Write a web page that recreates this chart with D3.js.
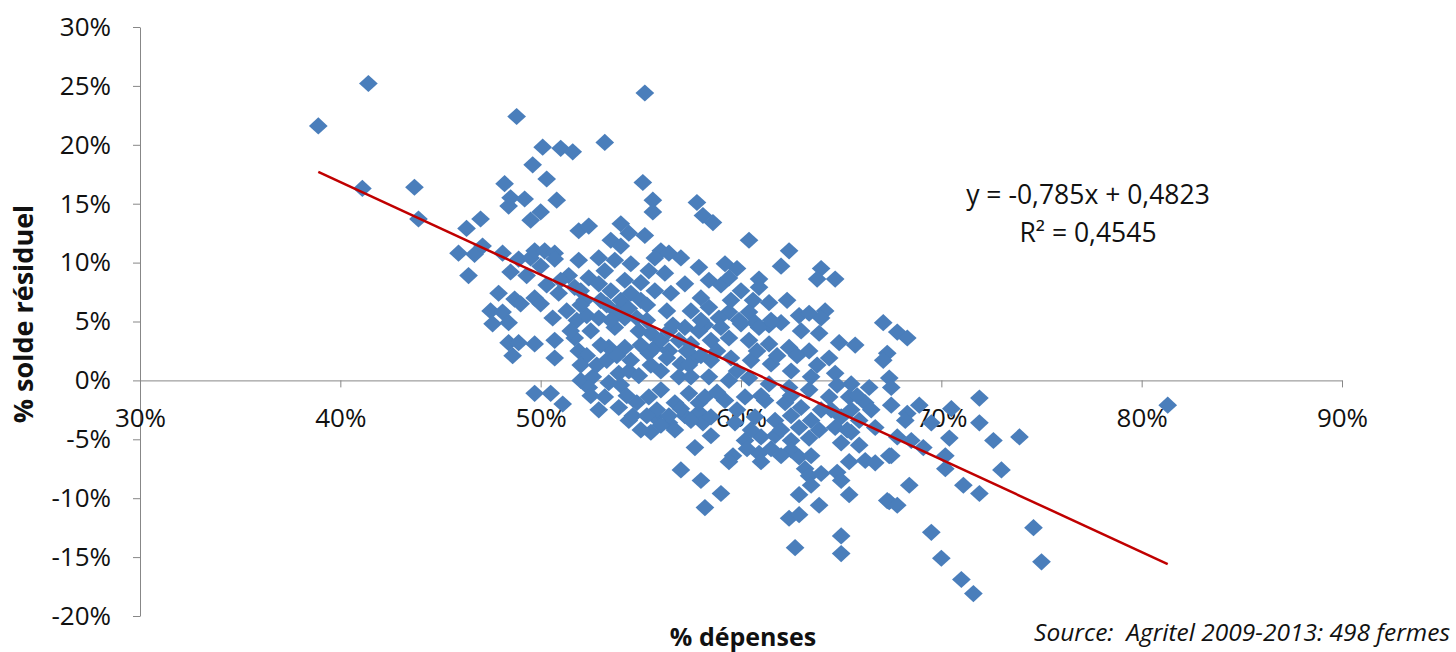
<!DOCTYPE html>
<html>
<head>
<meta charset="utf-8">
<script src="https://cdn.jsdelivr.net/npm/d3@7"></script>
<style>
  body { margin: 0; background: #fff; }
  text { font-family: "Open Sans", sans-serif; fill: #111; }
</style>
</head>
<body>
<div class="chart"></div>
<script>
// % dépenses (x) vs % solde résiduel (y), one pair per farm
var fermes = [
  [38.9,21.6],[41.4,25.2],[41.1,16.3],[43.7,16.4],[43.9,13.7],[48.8,22.4],[49.6,18.3],[48.2,16.7],[48.5,15.5],[49.2,15.4],
  [48.4,14.8],[47.0,13.7],[46.3,12.9],[49.5,13.6],[45.9,10.8],[46.7,10.7],[47.1,11.4],[48.1,10.8],[48.9,10.3],[46.4,8.9],
  [48.5,9.2],[49.5,10.4],[50.0,9.7],[47.9,7.4],[47.5,5.9],[48.1,5.8],[48.7,6.9],[49.0,6.5],[49.7,7.0],[50.0,6.5],
  [47.6,4.8],[48.4,4.9],[48.4,3.2],[48.9,3.2],[48.6,2.1],[49.7,3.1],[49.7,-1.1],
  [55.2,24.4],[53.2,20.2],[50.1,19.8],[51.0,19.7],[51.6,19.4],[50.3,17.1],[55.1,16.8],[50.8,15.3],[55.6,15.3],[55.6,14.3],
  [57.8,15.1],[50.0,14.3],[58.1,14.0],[58.6,13.4],[51.9,12.7],[52.4,13.1],[54.0,13.3],[54.4,12.5],[53.5,11.9],[55.2,12.3],
  [54.0,11.4],[49.7,11.0],[50.2,11.0],[50.7,10.8],[56.0,11.0],[56.4,10.8],
  [60.4,11.9],[62.4,11.0],[62.0,9.7],[64.0,9.5],[64.7,8.6],[63.8,8.6],[59.2,9.9],[59.8,9.5],[58.4,8.5],[59.0,8.1],
  [59.4,8.7],[60.9,8.6],[60.9,7.9],[60.0,7.6],[61.4,6.6],[60.6,6.8],[60.4,5.8],[59.4,5.8],[58.9,5.3],[58.4,6.2],
  [59.9,5.1],[60.7,4.9],[61.4,4.7],[62.9,5.5],[63.4,5.7],[64.2,5.9],[64.0,5.3],[67.1,4.9],[58.2,4.7],[58.0,7.0],
  [60.2,-5.1],[61.0,-4.8],[61.7,-4.7],[62.5,-5.1],[63.4,-4.9],[59.6,-6.4],[59.4,-6.9],[60.9,-6.2],[61.0,-6.9],[61.5,-5.8],
  [62.5,-5.9],[62.9,-6.5],[65.0,-5.3],[65.9,-5.5],[65.5,-4.4],[65.4,-6.9],[66.2,-6.8],[66.7,-7.0],[67.4,-6.4],[63.2,-7.5],
  [63.4,-8.1],[64.0,-7.9],[64.8,-7.8],[65.0,-8.5],[58.0,-8.5],[63.5,-8.9],[62.9,-9.7],[59.0,-9.6],[65.4,-9.7],[67.3,-10.2],
  [58.2,-10.8],[63.9,-10.6],[62.4,-11.7],[62.9,-11.4],[65.0,-13.2],[62.7,-14.2],[65.0,-14.7],
  [54.4,-3.4],[55.5,-4.4],[55.7,-3.1],[56.4,-3.6],[56.7,-4.2],[57.2,-3.0],[57.9,-2.7],[58.1,-3.6],[57.7,-5.7],[57.0,-7.6],
  [67.8,4.1],[68.3,3.6],[67.3,2.3],[67.1,1.7],[67.4,0.2],[67.5,-0.6],[67.5,-2.1],[68.3,-2.8],[68.2,-3.4],[68.9,-2.1],
  [69.5,-3.6],[70.5,-2.4],[71.9,-1.5],[71.9,-3.6],[70.4,-4.9],[72.6,-5.1],[73.9,-4.8],[67.8,-4.8],[68.5,-5.1],[69.1,-5.7],
  [67.5,-6.4],[70.2,-6.4],[70.2,-7.5],[73.0,-7.6],[68.4,-8.9],[71.1,-8.9],[71.9,-9.6],[67.4,-10.3],[67.8,-10.6],[69.5,-12.9],
  [74.6,-12.5],[70.0,-15.1],[75.0,-15.4],[71.0,-16.9],[71.6,-18.1],[81.3,-2.1],
  [50.5,-1.1],[51.1,-2.0],[50.7,10.3],[51.4,8.9],[50.6,5.3],[50.7,3.4],[50.7,1.9],[51.9,2.5],[51.7,3.6],[52.0,0.0],
  [52.6,0.3],[52.4,-0.6],[53.4,-0.2],[53.9,0.6],[54.4,0.8],[54.9,0.4],[54.8,-1.9],[54.6,-3.0],[55.4,-1.4],[56.0,-0.8],
  [56.7,-1.9],[57.4,-1.1],[57.9,-1.9],[53.2,-1.4],[52.9,-2.5],[53.9,-2.3],[53.7,4.5],[54.2,5.3],[53.4,2.8],[54.2,2.8],
  [54.5,1.7],[55.4,2.3],[55.7,2.8],[56.4,2.5],[56.9,3.4],[57.5,3.1],[57.7,1.9],[57.0,1.4],[56.0,0.8],[56.9,0.3],
  [57.5,0.3],[57.9,4.2],[57.2,4.5],[56.4,4.2],[55.5,4.0],[54.9,4.2],[52.9,5.3],[52.2,6.8],[52.4,8.7],[52.9,8.2],
  [53.5,7.6],[54.0,6.8],[54.5,7.4],[55.0,6.8],[55.7,7.6],[56.5,7.4],[57.2,8.2],[56.2,9.1],[55.4,9.3],[54.5,9.9],
  [53.7,10.2],[52.9,10.4],[51.9,10.2],[51.7,7.9],[50.9,7.4],[57.0,10.4],[57.9,9.6],[55.7,10.4],[54.2,8.5],[53.2,9.3],
  [59.0,4.5],[60.0,4.8],[60.9,4.5],[62.0,4.9],[63.0,4.2],[63.9,4.0],[64.9,3.2],[65.7,3.0],[58.5,3.4],[59.4,3.6],
  [60.4,3.4],[61.4,3.1],[62.4,2.8],[63.4,2.5],[64.4,1.9],[58.5,1.7],[59.5,1.9],[60.5,1.7],[61.5,1.4],[62.5,0.8],
  [63.5,0.3],[64.7,0.6],[65.5,-0.3],[66.4,-0.6],[58.4,0.3],[59.4,0.0],[60.4,0.2],[61.4,-0.3],[62.4,-0.6],[63.4,-0.8],
  [64.4,-1.4],[65.4,-1.4],[66.2,-1.9],[58.2,-1.4],[59.2,-1.7],[60.2,-1.4],[61.2,-1.7],[62.2,-1.9],[63.0,-2.3],[64.0,-2.5],
  [65.0,-3.1],[65.9,-3.4],[66.7,-4.0],[58.5,-3.1],[59.7,-3.6],[60.7,-3.1],[61.7,-3.4],[62.9,-4.0],[63.9,-4.2],[64.7,-4.0],
  [55.0,8.3],[53.0,6.8],[51.3,5.9],[51.8,5.1],[52.3,5.5],[52.5,4.2],[51.5,4.2],[52.0,6.4],[53.3,6.4],[53.8,5.8],
  [54.4,6.1],[53.5,5.1],[54.8,5.3],[55.3,5.1],[56.0,3.4],[56.6,4.7],[57.3,2.5],[58.0,2.1],[55.5,1.3],[56.3,1.9],
  [57.4,1.3],[55.0,3.0],[52.3,2.1],[52.8,1.3],[53.3,1.7],[53.8,2.1],[54.0,-0.4],[52.0,1.3],[53.0,3.0],[52.5,-1.3],
  [54.3,-1.3],[55.8,-2.5],[56.4,-3.0],[57.0,-2.4],[57.5,-3.4],[55.3,-3.0],[58.8,2.5],[59.8,0.8],[60.8,2.5],[61.8,2.1],
  [62.8,2.1],[63.8,1.3],[64.8,-0.4],[65.8,-1.3],[66.5,-2.5],[58.8,-1.0],[59.8,-2.5],[62.5,-3.0],[63.5,-3.4],[65.3,-4.2],
  [62.0,-4.2],[60.5,-4.2],[60.3,-5.8],[62.0,-6.4],[63.5,-6.4],[56.0,-3.8],[58.5,-4.7],[55.0,-4.2],[49.3,8.9],[50.3,8.1],
  [51.0,8.5],[55.3,6.4],[52.0,7.6],[56.3,5.9],[57.5,5.9],[58.0,5.1],[59.5,6.8],[61.5,5.1],[62.3,6.8],[61.0,-1.3],
  [62.5,-1.3],[64.5,-2.5],[65.5,-2.5]
];

var xTicks = [30, 40, 50, 60, 70, 80, 90];
var yTicks = [-20, -15, -10, -5, 0, 5, 10, 15, 20, 25, 30];

// linear trend shown on the chart (in % units)
var pente = -0.785;
var ordonnee = 48.23;
var equation = 'y = -0,785x + 0,4823';
var r2 = 'R² = 0,4545';

var width = 1456, height = 652;

var svg = d3.select('.chart')
  .append('svg')
  .attr('width', width)
  .attr('height', height);

var xScale = d3.scaleLinear().domain([30, 90]).range([140, 1342]);
var yScale = d3.scaleLinear().domain([-20, 30]).range([616, 27]);

// y axis
var yAxis = svg.append('g')
  .attr('transform', 'translate(140,0)')
  .call(d3.axisLeft(yScale)
    .tickValues(yTicks)
    .tickSize(7)
    .tickSizeOuter(0)
    .tickPadding(22)
    .tickFormat(d => d + '%'));

// x axis sits on y = 0
var xAxis = svg.append('g')
  .attr('transform', `translate(0,${yScale(0)})`)
  .call(d3.axisBottom(xScale)
    .tickValues(xTicks)
    .tickSize(7)
    .tickSizeOuter(0)
    .tickFormat(d => d + '%'));

xAxis.selectAll('text').attr('y', 47).attr('dy', 0);

[xAxis, yAxis].forEach(g => {
  g.select('.domain').attr('stroke', '#878787');
  g.selectAll('.tick line').attr('stroke', '#878787');
  g.selectAll('text')
    .style('font-family', '"Open Sans", sans-serif')
    .style('font-size', '26px')
    .attr('fill', '#111');
});

// excel style diamond marker
var diamond = {
  draw: function (ctx, size) {
    var w = Math.sqrt(size) * 0.72, h = Math.sqrt(size) * 0.66;
    ctx.moveTo(0, -h);
    ctx.lineTo(w, 0);
    ctx.lineTo(0, h);
    ctx.lineTo(-w, 0);
    ctx.closePath();
  }
};

svg.append('g')
  .selectAll('path')
  .data(fermes)
  .enter()
  .append('path')
  .attr('transform', d => `translate(${xScale(d[0])},${yScale(d[1])})`)
  .attr('d', d3.symbol().type(diamond).size(169))
  .style('fill', '#4a7ebb');

// trend line over the range of the data
var ext = d3.extent(fermes, d => d[0]);
var line = d3.line()
  .x(d => xScale(d))
  .y(d => yScale(pente * d + ordonnee));

svg.append('path')
  .attr('d', line(ext))
  .style('fill', 'none')
  .style('stroke', '#c00000')
  .style('stroke-width', 2.5);

svg.append('text')
  .attr('x', 1088).attr('y', 204)
  .attr('text-anchor', 'middle')
  .style('font-size', '26.5px')
  .text(equation);

svg.append('text')
  .attr('x', 1088).attr('y', 242)
  .attr('text-anchor', 'middle')
  .style('font-size', '26.5px')
  .text(r2);

// axis titles
svg.append('text')
  .attr('x', 743).attr('y', 646)
  .attr('text-anchor', 'middle')
  .style('font-size', '25px')
  .style('font-weight', 'bold')
  .text('% dépenses');

svg.append('text')
  .attr('transform', 'translate(33,314) rotate(-90)')
  .attr('text-anchor', 'middle')
  .style('font-size', '27px')
  .style('font-weight', 'bold')
  .text('% solde résiduel');

svg.append('text')
  .attr('x', 1450).attr('y', 641)
  .attr('text-anchor', 'end')
  .style('font-size', '24.5px')
  .style('font-style', 'italic')
  .style('white-space', 'pre')
  .text('Source:  Agritel 2009-2013: 498 fermes');
</script>
</body>
</html>
